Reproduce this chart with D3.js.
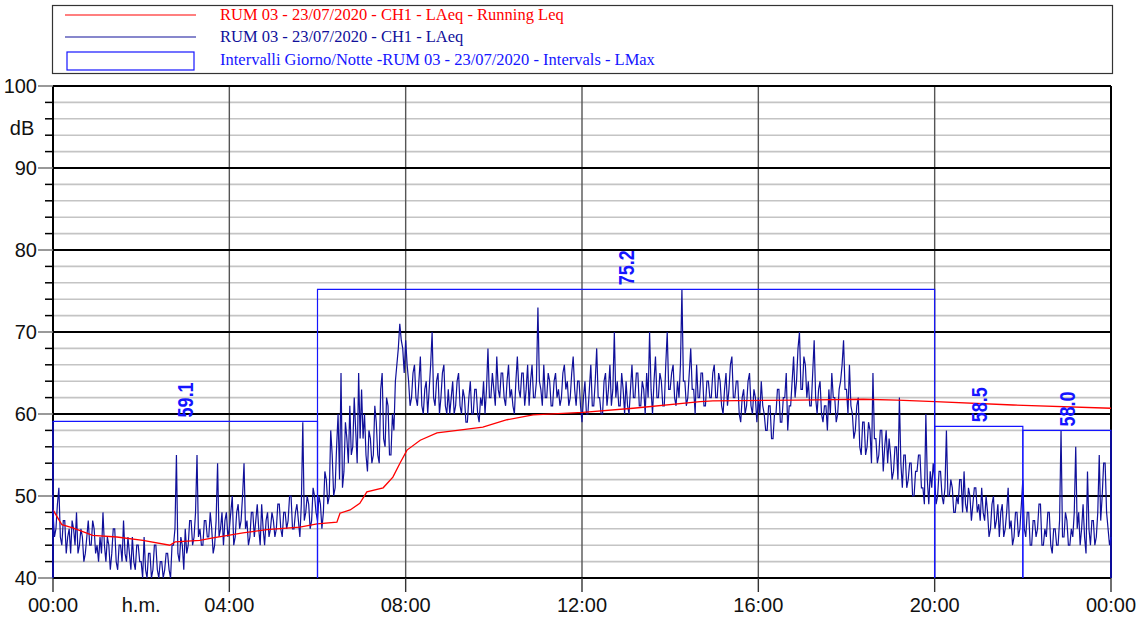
<!DOCTYPE html>
<html>
<head>
<meta charset="utf-8">
<script src="https://cdn.jsdelivr.net/npm/d3@7"></script>
<style>
  body { margin: 0; background: #fff; }
  svg { display: block; }
</style>
</head>
<body>
<svg width="1138" height="630"></svg>
<script>
// LAeq, one value every 2 minutes, 30 per hour (00:00 -> 24:00)
const laeq = [
  48,45, 46,49, 51,45, 44,47, 47,43, 45,46, 43,47, 46,44, 48,43, 44,46, 45,42, 43,45, 47,44, 44,47, 46,43,
  44,42, 45,43, 48,44, 42,45, 44,41, 43,46, 46,42, 41,44, 44,42, 47,43, 42,45, 43,41, 45,42, 41,44, 44,42,
  42,40, 45,41, 40,43, 43,40, 41,44, 44,41, 40,42, 42,40, 41,43, 43,41, 40,44, 44,46, 55,43, 42,45, 44,41,
  46,43, 44,47, 47,44, 45,48, 55,45, 46,44, 44,47, 47,45, 45,48, 46,43, 44,47, 54,45, 46,48, 44,47, 48,45,
  46,48, 50,44, 45,48, 49,46, 47,50, 54,46, 47,44, 45,48, 48,45, 47,49, 46,44, 49,46, 44,47, 48,45, 46,48,
  47,45, 46,49, 49,46, 45,48, 48,46, 47,50, 50,46, 46,48, 49,47, 45,49, 59,47, 48,50, 49,46, 47,51, 50,48,
  47,50, 49,46, 48,53, 52,49, 50,58, 55,50, 51,56, 60,52, 65,51, 53,59, 57,54, 61,55, 56,62, 58,54, 65,57,
  63,57, 60,55, 53,58, 57,54, 55,61, 59,55, 54,63, 65,57, 56,62, 61,55, 55,60, 58,64, 66,68, 71,69, 68,65,
  69,66, 64,61, 62,65, 66,62, 61,64, 67,61, 60,63, 64,60, 63,66, 70,62, 61,64, 65,60, 62,65, 66,61, 60,63,
  60,62, 64,60, 61,64, 65,61, 60,63, 62,59, 59,62, 64,60, 60,63, 63,60, 59,62, 61,64, 60,63, 68,62, 62,65,
  63,61, 67,63, 62,65, 65,62, 61,64, 66,62, 63,61, 60,64, 67,63, 62,65, 65,61, 63,66, 61,64, 66,62, 62,64,
  73,64, 63,61, 66,62, 62,65, 64,61, 61,64, 65,62, 63,61, 62,65, 66,63, 64,61, 62,65, 67,63, 61,64, 64,61,
  59,62, 64,60, 60,63, 66,61, 61,64, 68,62, 62,60, 60,64, 65,61, 63,66, 61,63, 70,62, 64,61, 61,65, 63,60,
  64,61, 60,63, 66,62, 62,65, 65,61, 61,64, 63,60, 65,62, 70,63, 60,64, 67,62, 62,65, 64,61, 61,66, 70,63,
  63,65, 66,62, 61,64, 62,66, 75.2,64, 64,61, 62,65, 68,63, 63,60, 66,62, 62,65, 65,61, 61,64, 64,62, 62,65,
  66,62, 62,65, 64,61, 60,63, 65,61, 63,66, 67,62, 62,64, 64,60, 59,62, 63,60, 61,64, 65,61, 60,63, 62,59,
  62,60, 64,61, 60,58, 58,61, 61,57, 57,60, 60,63, 63,59, 59,62, 62,65, 58,61, 61,64, 67,62, 64,68, 70,63,
  63,67, 66,62, 64,61, 61,65, 69,62, 60,63, 64,60, 59,61, 61,58, 63,60, 65,62, 62,59, 60,63, 64,66, 69,63,
  63,60, 66,61, 60,57, 58,61, 62,56, 55,59, 59,55, 56,59, 58,54, 65,57, 57,54, 55,58, 58,53, 56,58, 54,57,
  55,52, 53,56, 56,52, 62,54, 51,55, 55,51, 52,54, 54,50, 50,53, 53,55, 55,51, 51,49, 60,52, 49,53, 51,54,
  52,49, 50,53, 53,50, 49,51, 58,50, 50,52, 51,48, 48,50, 49,52, 52,48, 53,49, 48,51, 50,47, 49,51, 51,48,
  49,47, 51,48, 47,50, 48,45, 46,49, 50,46, 47,49, 45,48, 49,45, 46,48, 51,46, 47,44, 45,48, 48,45, 46,49,
  52,46, 45,48, 48,44, 44,47, 47,45, 46,49, 49,44, 44,46, 45,48, 48,44, 43,46, 46,44, 44,47, 58,45, 45,48,
  47,44, 44,46, 45,48, 56,46, 48,44, 46,49, 45,43, 53,46, 44,47, 47,44, 45,48, 55,47, 50,54, 54,48, 46,44,
  45
];
const stepMinutes = 2;

// Running Leq
const leqHours  = [0, 0.2, 0.45, 0.9, 1.45, 2.04, 2.65, 2.77, 3.33, 3.63, 4.31, 4.85, 5.6, 5.99, 6.44, 6.51, 6.74, 6.96, 7.12, 7.49, 7.71, 7.87, 8.03, 8.33, 8.71, 9.17, 9.75, 10.3, 10.89, 12.02, 13.16, 14.68, 14.97, 16.88, 18.38, 19.15, 20.01, 21.78, 24];
const leqValues = [48.3, 46.5, 46.1, 45.2, 45.0, 44.6, 44.0, 44.4, 44.6, 44.9, 45.5, 45.9, 46.2, 46.6, 46.8, 47.9, 48.3, 49.1, 50.5, 51.0, 52.3, 54.0, 55.6, 56.8, 57.7, 58.0, 58.4, 59.3, 59.9, 60.2, 60.7, 61.5, 61.6, 61.7, 61.8, 61.7, 61.5, 61.1, 60.7];

// day / night intervals with LMax
const intervalStart = [0, 6, 20, 22];
const intervalEnd   = [6, 20, 22, 24];
const intervalLmax  = [59.1, 75.2, 58.5, 58.0];

const xTickHours  = [0, 4, 8, 12, 16, 20, 24];
const xTickLabels = ["00:00", "04:00", "08:00", "12:00", "16:00", "20:00", "00:00"];
const yMajor = [40, 50, 60, 70, 80, 90, 100];

const legendLabels = [
  "RUM 03 - 23/07/2020 - CH1 - LAeq - Running Leq",
  "RUM 03 - 23/07/2020 - CH1 - LAeq",
  "Intervalli Giorno/Notte -RUM 03 - 23/07/2020 - Intervals - LMax"
];

const svg = d3.select('svg');
const plotLeft = 53, plotRight = 1111, plotTop = 86, plotBottom = 578;

const x = d3.scaleLinear().domain([0, 24]).range([plotLeft, plotRight]);
const y = d3.scaleLinear().domain([40, 100]).range([plotBottom, plotTop]);

const sans = 'Liberation Sans, Arial, sans-serif';
const blue = '#1515ff';
const navy = '#10109a';

// minor grid every 2 dB
const yMinor = d3.range(42, 100, 2).filter(v => v % 10 !== 0);
svg.append('g').selectAll('line').data(yMinor).join('line')
  .attr('x1', plotLeft).attr('x2', plotRight)
  .attr('y1', d => y(d)).attr('y2', d => y(d))
  .attr('stroke', '#c4c4c4').attr('stroke-width', 1.6);

// vertical grid every 4 h
svg.append('g').selectAll('line').data(xTickHours.slice(1, -1)).join('line')
  .attr('x1', d => x(d)).attr('x2', d => x(d))
  .attr('y1', plotTop).attr('y2', plotBottom)
  .attr('stroke', '#555').attr('stroke-width', 1.4);

// major grid
svg.append('g').selectAll('line').data(yMajor).join('line')
  .attr('x1', plotLeft).attr('x2', plotRight)
  .attr('y1', d => y(d)).attr('y2', d => y(d))
  .attr('stroke', '#000').attr('stroke-width', 2);

// frame sides
svg.append('line').attr('x1', plotLeft).attr('x2', plotLeft).attr('y1', plotTop).attr('y2', plotBottom)
  .attr('stroke', '#000').attr('stroke-width', 2);
svg.append('line').attr('x1', plotRight).attr('x2', plotRight).attr('y1', plotTop).attr('y2', plotBottom)
  .attr('stroke', '#000').attr('stroke-width', 2);

// y ticks
svg.append('g').selectAll('line').data(d3.range(40, 101, 2)).join('line')
  .attr('x1', d => d % 10 === 0 ? plotLeft - 15 : plotLeft - 8).attr('x2', plotLeft)
  .attr('y1', d => y(d)).attr('y2', d => y(d))
  .attr('stroke', d => d % 10 === 0 ? '#777' : '#000')
  .attr('stroke-width', 1.5);

svg.append('g').selectAll('text').data(yMajor).join('text')
  .attr('x', 37).attr('y', d => y(d)).attr('dy', '0.36em')
  .attr('text-anchor', 'end')
  .attr('font-family', sans).attr('font-size', 20).attr('fill', '#111')
  .text(d => d);

svg.append('text').attr('x', 22).attr('y', 128).attr('dy', '0.36em')
  .attr('text-anchor', 'middle')
  .attr('font-family', sans).attr('font-size', 20).attr('fill', '#111')
  .text('dB');

// x ticks
svg.append('g').selectAll('line').data(xTickHours).join('line')
  .attr('x1', d => x(d)).attr('x2', d => x(d))
  .attr('y1', plotBottom).attr('y2', plotBottom + 14)
  .attr('stroke', '#333').attr('stroke-width', 1.4);

svg.append('g').selectAll('text').data(xTickHours).join('text')
  .attr('x', d => x(d)).attr('y', 612)
  .attr('text-anchor', 'middle')
  .attr('font-family', sans).attr('font-size', 20).attr('fill', '#111')
  .text((d, i) => xTickLabels[i]);

svg.append('text').attr('x', x(2)).attr('y', 612)
  .attr('text-anchor', 'middle')
  .attr('font-family', sans).attr('font-size', 20).attr('fill', '#111')
  .text('h.m.');

// LAeq
const laeqLine = d3.line()
  .x((d, i) => x(i * stepMinutes / 60))
  .y(d => y(Math.max(40, d)));
svg.append('path').datum(laeq)
  .attr('d', laeqLine)
  .attr('fill', 'none').attr('stroke', navy).attr('stroke-width', 1.2);

// running Leq
const leqLine = d3.line()
  .x((d, i) => x(leqHours[i]))
  .y(d => y(d));
svg.append('path').datum(leqValues)
  .attr('d', leqLine)
  .attr('fill', 'none').attr('stroke', '#ff0000').attr('stroke-width', 1.3);

// intervals
const intervals = intervalLmax.map((v, i) => ({ s: intervalStart[i], e: intervalEnd[i], v }));
svg.append('g').selectAll('path').data(intervals).join('path')
  .attr('d', d => `M${x(d.s)},${y(40)}V${y(d.v)}H${x(d.e)}V${y(40)}`)
  .attr('fill', 'none').attr('stroke', blue).attr('stroke-width', 1.2);

svg.append('g').selectAll('text').data(intervals).join('text')
  .attr('transform', d => `translate(${x((d.s + d.e) / 2)},${y(d.v) - 4}) rotate(-90) scale(1,1.25)`)
  .attr('dy', '0.36em')
  .attr('font-family', sans).attr('font-size', 18).attr('font-weight', 'bold')
  .attr('fill', blue)
  .text(d => d.v.toFixed(1));

// legend
const legend = svg.append('g');
legend.append('rect')
  .attr('x', 52.5).attr('y', 5.5).attr('width', 1060).attr('height', 68)
  .attr('fill', '#fff').attr('stroke', '#333').attr('stroke-width', 1.2);

const legendColors = ['#ff0000', navy, blue];
const legendRows = [15, 37, 60];

legend.append('line').attr('x1', 65).attr('x2', 196)
  .attr('y1', legendRows[0]).attr('y2', legendRows[0])
  .attr('stroke', legendColors[0]).attr('stroke-width', 1.2);
legend.append('line').attr('x1', 65).attr('x2', 196)
  .attr('y1', legendRows[1]).attr('y2', legendRows[1])
  .attr('stroke', legendColors[1]).attr('stroke-width', 1.2);
legend.append('rect').attr('x', 67).attr('y', 52).attr('width', 127).attr('height', 18)
  .attr('fill', 'none').attr('stroke', legendColors[2]).attr('stroke-width', 1.2);

legend.selectAll('text.lab').data(legendLabels).join('text')
  .attr('class', 'lab')
  .attr('x', 220).attr('y', (d, i) => legendRows[i]).attr('dy', '0.3em')
  .attr('font-family', 'Liberation Serif, Times New Roman, serif')
  .attr('font-size', 16.5)
  .attr('fill', (d, i) => legendColors[i])
  .text(d => d);
</script>
</body>
</html>
